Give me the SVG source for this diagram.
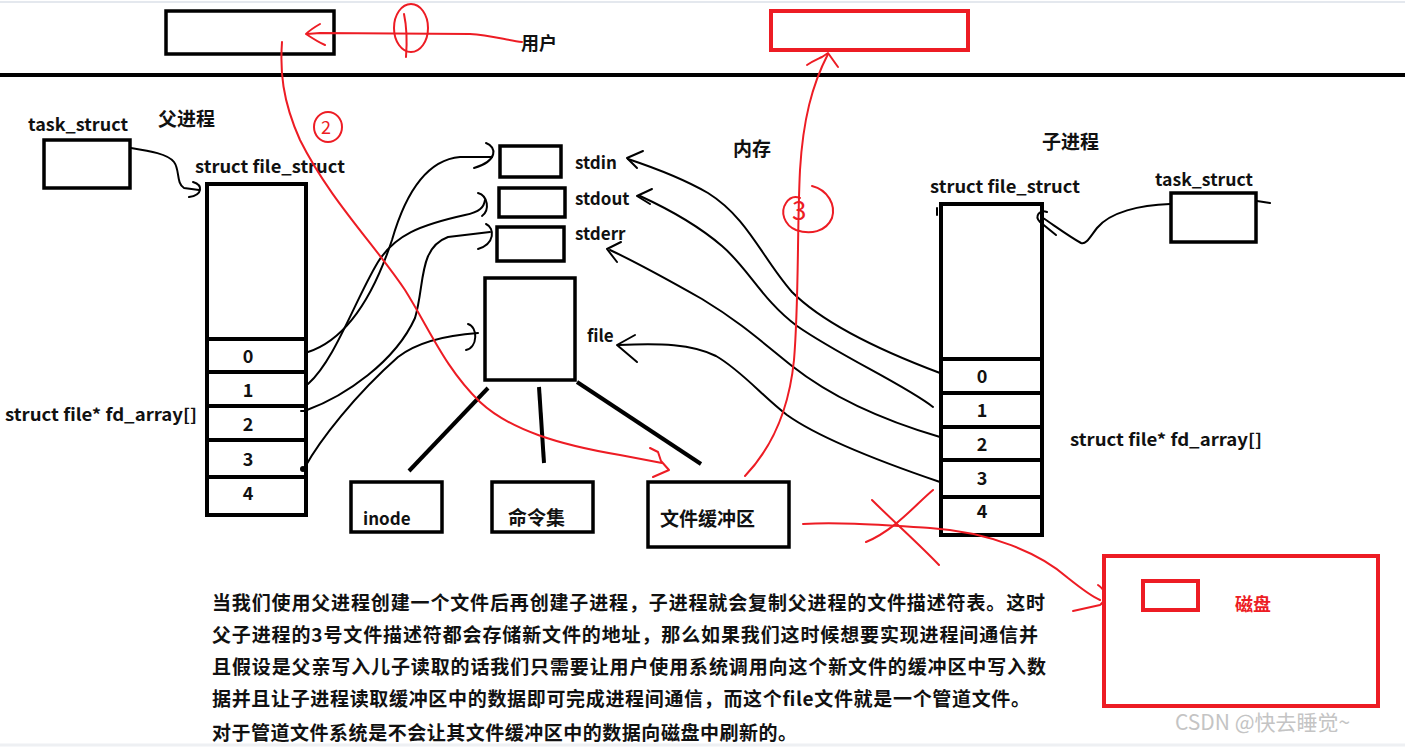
<svg xmlns="http://www.w3.org/2000/svg" width="1405" height="747" viewBox="0 0 1405 747">
<style>
  text { font-family: "Noto Sans CJK SC", "Liberation Sans", sans-serif; font-weight: bold; fill: #111; }
  .lbl { font-size: 17px; }
  .cjk { font-size: 19px; }
  .num { font-size: 18px; text-anchor: middle; }
  .para { font-size: 19px; }
  .box { fill: #fff; stroke: #000; stroke-width: 3.5; }
  .bbox { fill: #fff; stroke: #000; stroke-width: 4; }
  .sep { stroke: #000; stroke-width: 4; }
  .rbox { fill: none; stroke: #ed1c24; stroke-width: 4; }
  .ink { fill: none; stroke: #000; stroke-width: 2; stroke-linecap: round; stroke-linejoin: round; }
  .thick { fill: none; stroke: #000; stroke-width: 4; }
  .red { fill: none; stroke: #ed1c24; stroke-width: 2; stroke-linecap: round; stroke-linejoin: round; }
  .rtext { fill: #ed1c24; }
</style>
<rect x="0" y="0" width="1405" height="747" fill="#fff"/>
<line x1="0" y1="2" x2="1405" y2="2" stroke="#e4e8ee" stroke-width="2"/>
<line x1="0" y1="745" x2="1405" y2="745" stroke="#eef0f3" stroke-width="3"/>

<!-- divider -->
<line id="divider" x1="0" y1="75" x2="1405" y2="75" stroke="#000" stroke-width="4"/>

<g id="user-box"><rect class="box" x="166" y="11" width="168" height="43"/></g>
<g id="user-label"><text class="cjk" x="521" y="50" style="font-size:18px">用户</text></g>
<g id="red-top-box"><rect class="rbox" x="771" y="11" width="197" height="39"/></g>
<g id="memory-label"><text class="cjk" x="733" y="156">内存</text></g>

<!-- parent -->
<g id="parent-label"><text class="cjk" x="158" y="126">父进程</text></g>
<g id="parent-task">
  <text class="lbl" x="28" y="131" textLength="100" lengthAdjust="spacingAndGlyphs">task_struct</text>
  <rect class="box" x="44" y="140" width="86" height="48"/>
</g>
<g id="parent-files">
  <text class="lbl" x="195" y="173" textLength="150" lengthAdjust="spacingAndGlyphs">struct file_struct</text>
  <rect class="bbox" x="207" y="184" width="99" height="331"/>
  <line class="sep" x1="207" y1="339" x2="306" y2="339"/>
  <line class="sep" x1="207" y1="372" x2="306" y2="372"/>
  <line class="sep" x1="207" y1="406" x2="306" y2="406"/>
  <line class="sep" x1="207" y1="440" x2="306" y2="440"/>
  <line class="sep" x1="207" y1="477" x2="306" y2="477"/>
  <text class="num" x="248" y="363">0</text>
  <text class="num" x="248" y="397">1</text>
  <text class="num" x="248" y="431">2</text>
  <text class="num" x="248" y="466">3</text>
  <text class="num" x="248" y="500">4</text>
  <text class="lbl" x="5" y="421" textLength="192" lengthAdjust="spacingAndGlyphs">struct file* fd_array[]</text>
</g>

<!-- kernel file objects -->
<g id="stdin"><rect class="box" x="500" y="146" width="61" height="31"/><text class="lbl" x="575" y="169">stdin</text></g>
<g id="stdout"><rect class="box" x="499" y="188" width="66" height="29"/><text class="lbl" x="575" y="205">stdout</text></g>
<g id="stderr"><rect class="box" x="497" y="227" width="67" height="34"/><text class="lbl" x="575" y="240">stderr</text></g>
<g id="file"><rect class="box" x="485" y="278" width="90" height="102"/><text class="lbl" x="587" y="342">file</text></g>
<g id="inode"><rect class="box" x="351" y="482" width="91" height="50"/><text class="lbl" x="363" y="525">inode</text></g>
<g id="cmdset"><rect class="box" x="492" y="482" width="101" height="50"/><text class="cjk" x="508" y="525">命令集</text></g>
<g id="buffer"><rect class="box" x="648" y="482" width="141" height="65"/><text class="cjk" x="660" y="526">文件缓冲区</text></g>

<!-- child -->
<g id="child-label"><text class="cjk" x="1042" y="149">子进程</text></g>
<g id="child-task">
  <text class="lbl" x="1155" y="186" textLength="98" lengthAdjust="spacingAndGlyphs">task_struct</text>
  <rect class="box" x="1171" y="193" width="85" height="49"/>
</g>
<g id="child-files">
  <text class="lbl" x="930" y="193" textLength="150" lengthAdjust="spacingAndGlyphs">struct file_struct</text>
  <rect class="bbox" x="941" y="204" width="101" height="331"/>
  <line class="sep" x1="941" y1="359" x2="1042" y2="359"/>
  <line class="sep" x1="941" y1="393" x2="1042" y2="393"/>
  <line class="sep" x1="941" y1="427" x2="1042" y2="427"/>
  <line class="sep" x1="941" y1="460" x2="1042" y2="460"/>
  <line class="sep" x1="941" y1="497" x2="1042" y2="497"/>
  <text class="num" x="982" y="383">0</text>
  <text class="num" x="982" y="417">1</text>
  <text class="num" x="982" y="451">2</text>
  <text class="num" x="982" y="485">3</text>
  <text class="num" x="982" y="518">4</text>
  <text class="lbl" x="1070" y="446" textLength="192" lengthAdjust="spacingAndGlyphs">struct file* fd_array[]</text>
</g>

<!-- disk -->
<g id="disk">
  <rect class="rbox" x="1104" y="556" width="274" height="150"/>
  <rect class="rbox" x="1143" y="581" width="55" height="29"/>
  <text class="lbl rtext" x="1235" y="611" style="font-size:18px">磁盘</text>
</g>

<g id="connectors">
  <!-- file object to sub parts -->
  <line class="thick" x1="488" y1="388" x2="409" y2="471"/>
  <line class="thick" x1="539" y1="387" x2="544" y2="463"/>
  <line class="thick" x1="577" y1="382" x2="701" y2="464"/>

  <!-- parent task -> file_struct -->
  <path class="ink" d="M131,148 C150,151 168,154 174,162 C180,170 176,183 184,188 L199,190"/>
  <path class="ink" d="M193,182 C203,185 203,195 189,197"/>

  <!-- parent fd -> files -->
  <path class="ink" d="M308,352 C345,340 372,300 392,240 C405,195 425,160 460,157 L492,157"/>
  <path class="ink" d="M486,143 C497,147 498,161 474,168"/>
  <path class="ink" d="M308,384 C335,360 355,300 378,262 C395,235 420,225 465,215 C480,212 484,207 485,200"/>
  <path class="ink" d="M478,193 C488,196 490,210 482,216"/>
  <path class="ink" d="M307,410 C345,396 395,362 415,318 C425,285 418,248 448,237 L490,232"/>
  <path class="ink" d="M486,224 C495,228 495,244 478,249"/>
  <path class="ink" d="M305,467 C320,440 355,395 398,357 C420,340 450,335 478,333"/>
  <path class="ink" d="M468,324 C478,327 478,347 466,350"/>
  <circle cx="303" cy="469" r="3" fill="#000"/>
  <line class="ink" x1="301" y1="411" x2="304" y2="411"/>

  <!-- child task -> file_struct -->
  <path class="ink" d="M1170,204 C1140,205 1110,212 1097,228 C1090,237 1086,245 1081,243 C1070,237 1055,226 1043,218"/>
  <path class="ink" d="M1047,212 C1040,209 1034,216 1040,222 L1056,235"/>
  <path class="ink" d="M1257,201 L1270,203"/>
  <line class="ink" x1="937" y1="208" x2="937" y2="215"/>

  <!-- child fd -> files -->
  <path class="ink" d="M940,373 C900,358 830,330 792,292 C762,258 748,218 708,193 C682,178 652,167 628,159"/>
  <path class="ink" d="M643,151 L627,158 L637,168"/>
  <path class="ink" d="M933,407 C905,385 840,356 797,326 C762,300 748,268 722,246 C694,222 664,207 640,196"/>
  <path class="ink" d="M652,189 L637,196 L650,204"/>
  <path class="ink" d="M940,437 C882,420 830,396 792,366 C762,342 740,322 702,299 C672,282 640,264 610,250"/>
  <path class="ink" d="M621,242 L607,249 L617,262"/>
  <path class="ink" d="M940,482 C890,465 822,440 787,415 C762,396 742,371 716,356 C692,344 660,343 619,345"/>
  <path class="ink" d="M635,335 L617,345 L637,362"/>

  <!-- red (1): user -> box -->
  <path class="red" d="M522,42 C506,40 490,35 470,34 L320,33 L307,34"/>
  <path class="red" d="M320,24 C313,28 309,31 306,34 C312,38 318,42 325,45"/>
  <ellipse class="red" cx="411" cy="28" rx="17" ry="24"/>
  <path class="red" d="M404,14 C407,28 407,44 406,57"/>

  <!-- red (2): box -> buffer -->
  <path class="red" d="M282,42 C280,70 282,100 300,140 C330,200 375,245 405,290 C430,330 445,368 480,402 C510,430 560,445 620,455 L662,463"/>
  <path class="red" d="M650,448 L658,452 L661,461 L669,470 L653,477"/>
  <ellipse class="red" cx="328" cy="127" rx="14" ry="15"/>
  <text class="rtext" x="321" y="134" style="font-size:18px;font-weight:normal;">2</text>

  <!-- red (3): buffer -> red top box -->
  <path class="red" d="M745,476 C765,455 788,420 794,360 C799,300 797,230 800,170 C803,120 812,85 828,54"/>
  <path class="red" d="M807,65 C813,61 818,59 822,57 L828,53 L838,67"/>
  <path class="red" d="M812,186 C828,190 836,205 832,218 C826,232 810,235 796,230 C784,225 780,212 786,203 C790,197 795,196 800,198"/>
  <text class="rtext" x="792" y="220" style="font-size:26px;font-weight:normal;">3</text>

  <!-- red: buffer -> disk (crossed out) -->
  <path class="red" d="M803,524 C840,522 880,525 930,528 C990,532 1040,553 1068,578 C1083,590 1093,597 1100,600"/>
  <path class="red" d="M1098,585 C1106,590 1107,600 1100,605 L1073,611"/>
  <path class="red" d="M872,500 C892,520 920,545 939,565"/>
  <path class="red" d="M933,490 C915,505 895,530 866,542"/>
</g>

<g id="description">
  <text class="para" x="212" y="610" textLength="833" lengthAdjust="spacing">当我们使用父进程创建一个文件后再创建子进程，子进程就会复制父进程的文件描述符表。这时</text>
  <text class="para" x="212" y="642" textLength="826" lengthAdjust="spacing">父子进程的3号文件描述符都会存储新文件的地址，那么如果我们这时候想要实现进程间通信并</text>
  <text class="para" x="212" y="674" textLength="834" lengthAdjust="spacing">且假设是父亲写入儿子读取的话我们只需要让用户使用系统调用向这个新文件的缓冲区中写入数</text>
  <text class="para" x="212" y="706" textLength="818" lengthAdjust="spacing">据并且让子进程读取缓冲区中的数据即可完成进程间通信，而这个file文件就是一个管道文件。</text>
  <text class="para" x="212" y="740" textLength="585" lengthAdjust="spacing">对于管道文件系统是不会让其文件缓冲区中的数据向磁盘中刷新的。</text>
</g>

<g id="watermark"><text x="1175" y="730" style="font-size:21px;font-weight:normal;fill:#c4c4c4;">CSDN @快去睡觉~</text></g>
</svg>
